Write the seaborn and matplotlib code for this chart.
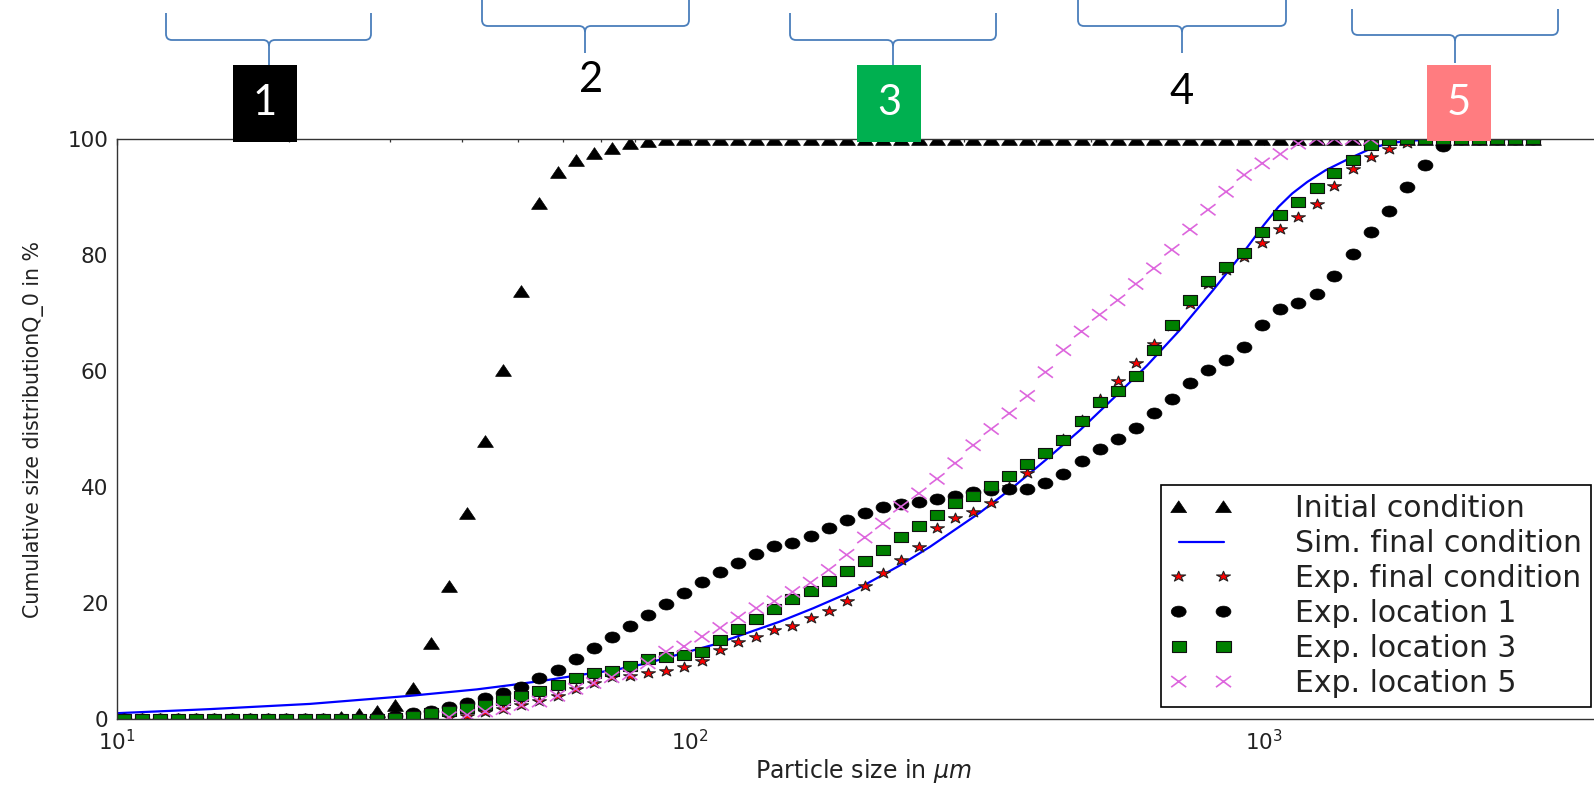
import numpy as np
import pandas as pd
import matplotlib
matplotlib.use("Agg")
import matplotlib.pyplot as plt
import matplotlib.transforms as mtransforms
from matplotlib.path import Path
from matplotlib.patches import Rectangle, PathPatch
from matplotlib import font_manager
import seaborn as sns

# ---------------- data ----------------
SIZE = [10.29, 11.07, 11.90, 12.79, 13.75, 14.79, 15.90, 17.10, 18.39, 19.77,
        21.26, 22.86, 24.58, 26.42, 28.41, 30.55, 32.85, 35.32, 37.97, 40.83,
        43.90, 47.21, 50.76, 54.58, 58.68, 63.10, 67.84, 72.94, 78.43, 84.33,
        90.68, 97.50, 104.8, 112.7, 121.2, 130.3, 140.1, 150.7, 162.0, 174.2,
        187.3, 201.4, 216.5, 232.8, 250.3, 269.2, 289.4, 311.2, 334.6, 359.7,
        386.8, 415.9, 447.2, 480.8, 517.0, 555.9, 597.7, 642.7, 691.0, 743.0,
        798.9, 859.0, 923.6, 993.1, 1068, 1148, 1235, 1327, 1427, 1535,
        1650, 1774, 1908, 2051, 2205, 2371, 2550, 2742, 2948]

INITIAL = [0, 0, 0, 0, 0, 0, 0, 0, 0, 0,
           0, 0, 0.3, 0.8, 1.4, 2.5, 5.4, 13.1, 23.0, 35.6,
           48.0, 60.1, 73.8, 89.0, 94.3, 96.4, 97.6, 98.4, 99.3, 99.7,
           100, 100, 100, 100, 100, 100, 100, 100, 100, 100,
           100, 100, 100, 100, 100, 100, 100, 100, 100, 100,
           100, 100, 100, 100, 100, 100, 100, 100, 100, 100,
           100, 100, 100, 100, 100, 100, 100, 100, 100, 100,
           100, 100, 100, 100, 100, 100, 100, 100, 100]

EXP_FINAL = [0, 0, 0, 0, 0, 0, 0, 0, 0, 0,
             0, 0, 0, 0, 0, 0, 0, 0, 0.3, 0.6,
             1.2, 1.7, 2.4, 3.1, 4.0, 5.1, 6.2, 7.2, 7.5, 8.0,
             8.3, 9.0, 10.0, 11.9, 13.3, 14.2, 15.3, 16.0, 17.4, 18.7,
             20.4, 22.9, 25.1, 27.4, 29.7, 32.9, 34.6, 35.7, 37.2, 40.0,
             42.5, 45.7, 48.2, 51.6, 55.2, 58.3, 61.3, 64.7, 67.8, 71.5,
             75.0, 77.4, 79.7, 82.1, 84.5, 86.6, 88.8, 91.9, 94.9, 96.9,
             98.2, 99.3, 100, 100, 100, 100, 100, 100, 100]

LOC1 = [0, 0, 0, 0, 0, 0, 0, 0, 0, 0,
        0, 0, 0, 0, 0.3, 0.6, 1.0, 1.4, 2.0, 2.7,
        3.6, 4.5, 5.6, 7.0, 8.5, 10.4, 12.3, 14.1, 16.0, 17.9,
        19.9, 21.8, 23.7, 25.4, 26.9, 28.4, 29.8, 30.3, 31.6, 33.0,
        34.3, 35.6, 36.5, 37.0, 37.4, 38.0, 38.5, 39.2, 39.4, 39.6,
        39.6, 40.7, 42.2, 44.5, 46.5, 48.2, 50.2, 52.7, 55.2, 57.9,
        60.1, 61.9, 64.2, 68.0, 70.7, 71.8, 73.3, 76.4, 80.2, 84.0,
        87.6, 91.8, 95.6, 98.8, 100, 100, 100, 100, 100]

LOC3 = [0, 0, 0, 0, 0, 0, 0, 0, 0, 0,
        0, 0, 0, 0, 0, 0.1, 0.5, 1.0, 1.3, 1.9,
        2.4, 3.2, 4.0, 4.8, 5.8, 7.1, 7.9, 8.3, 9.1, 10.4,
        10.7, 11.0, 11.6, 13.6, 15.5, 17.3, 19.0, 20.7, 22.1, 23.8,
        25.5, 27.2, 29.2, 31.3, 33.2, 35.2, 37.2, 38.4, 40.1, 41.9,
        43.9, 45.8, 48.1, 51.4, 54.6, 56.5, 59.2, 63.7, 68.0, 72.2,
        75.6, 77.9, 80.4, 84.0, 86.9, 89.2, 91.6, 94.1, 96.4, 98.9,
        99.8, 100, 100, 100, 100, 100, 100, 100, 100]

NA = np.nan
LOC5 = [NA, NA, NA, NA, NA, NA, NA, NA, NA, NA,
        NA, NA, NA, NA, NA, NA, NA, NA, 0.3, 0.7,
        1.3, 1.7, 2.4, 3.0, 4.0, 5.2, 6.2, 7.2, 7.7, 9.6,
        11.6, 12.5, 14.2, 15.7, 17.5, 19.1, 20.3, 21.9, 23.5, 25.7,
        28.3, 31.3, 33.7, 36.6, 38.9, 41.4, 44.1, 47.2, 50.0, 52.7,
        55.7, 59.8, 63.6, 66.8, 69.7, 72.2, 75.0, 77.7, 80.9, 84.4,
        87.8, 90.9, 93.8, 95.8, 97.4, 99.2, 100, 100, 100, 100,
        NA, NA, NA, NA, NA, NA, NA, NA, NA]

SIM_X = [10, 14.5, 21.7, 32.5, 42.4, 49.1, 56.2, 64.2, 73.4, 84.0,
         95.9, 109.7, 125.4, 143.3, 163.8, 187.3, 200.3, 232.1, 261.8, 320.0,
         365.7, 418.0, 477.9, 546.5, 624.8, 714.0, 816.2, 933.0, 1000, 1060,
         1120, 1190, 1280, 1413, 1540, 1659, 1797, 2028, 3000]
SIM_Y = [1.0, 1.7, 2.6, 4.0, 5.1, 5.9, 6.7, 7.6, 8.4, 9.6,
         11.2, 12.8, 14.8, 16.8, 19.1, 21.6, 23.0, 26.5, 29.7, 35.6,
         40.0, 44.8, 49.8, 55.3, 60.9, 67.1, 74.0, 81.2, 85.2, 88.3,
         90.6, 92.6, 94.6, 96.7, 98.4, 99.3, 99.7, 100, 100]

LABELS = ["Initial condition", "Sim. final condition", "Exp. final condition",
          "Exp. location 1", "Exp. location 3", "Exp. location 5"]
Y_TICKS = [0, 20, 40, 60, 80, 100]
REGION_LABELS = ["1", "2", "3", "4", "5"]

# ---------------- style ----------------
sns.set_style("white")
plt.rcParams["font.family"] = ["DejaVu Sans"]
plt.rcParams["mathtext.fontset"] = "dejavusans"

available = {f.name for f in font_manager.fontManager.ttflist}
digit_family = "Liberation Sans Narrow" if "Liberation Sans Narrow" in available else "Lato"

W, H = 1594, 786
fig = plt.figure(figsize=(W / 100, H / 100), dpi=100)
fig.patch.set_facecolor("white")

ax_l, ax_r, ax_t, ax_b = 116.7, 1609.3, 139.0, 719.0
ax = fig.add_axes([ax_l / W, 1 - ax_b / H, (ax_r - ax_l) / W, (ax_b - ax_t) / H])
ax.set_facecolor("white")

# stretched marker shapes (the reference is widened horizontally)
k = 1.35
tri = Path([(0, 1), (-k, -1), (k, -1), (0, 1)],
           [Path.MOVETO, Path.LINETO, Path.LINETO, Path.CLOSEPOLY])
uc = Path.unit_circle()
circ = Path(uc.vertices * np.array([k, 1.0]), uc.codes)
sq = Path([(-k, -1), (k, -1), (k, 1), (-k, 1), (-k, -1)],
          [Path.MOVETO, Path.LINETO, Path.LINETO, Path.LINETO, Path.CLOSEPOLY])
us = Path.unit_regular_star(5, 0.381966)
star = Path(us.vertices * np.array([k, 1.0]), us.codes)
xm = Path([(-k, -1), (k, 1), (-k, 1), (k, -1)],
          [Path.MOVETO, Path.LINETO, Path.MOVETO, Path.LINETO])

df = pd.DataFrame({"size": SIZE, "initial": INITIAL, "exp_final": EXP_FINAL,
                   "loc1": LOC1, "loc3": LOC3, "loc5": LOC5})
sim = pd.DataFrame({"size": SIM_X, "q0": SIM_Y})

handles = []
sns.scatterplot(data=df, x="size", y="initial", marker=tri, s=130, color="black",
                edgecolor="black", linewidth=0.5, ax=ax, zorder=2)
handles.append(ax.collections[-1])
sns.lineplot(data=sim, x="size", y="q0", color="#0000ff", linewidth=1.6,
             estimator=None, ax=ax, zorder=2)
handles.append(ax.lines[-1])
sns.scatterplot(data=df, x="size", y="exp_final", marker=star, s=100, color="#ff0000",
                edgecolor="#222222", linewidth=0.8, ax=ax, zorder=2)
handles.append(ax.collections[-1])
sns.scatterplot(data=df, x="size", y="loc1", marker=circ, s=115, color="black",
                edgecolor="black", linewidth=0.5, ax=ax, zorder=2)
handles.append(ax.collections[-1])
sns.scatterplot(data=df, x="size", y="loc3", marker=sq, s=105, color="#008000",
                edgecolor="#111111", linewidth=0.8, ax=ax, zorder=2)
handles.append(ax.collections[-1])
sns.scatterplot(data=df, x="size", y="loc5", marker=xm, s=117, color="#dd66dd",
                facecolor="none", edgecolor="#dd66dd", linewidth=1.2, ax=ax, zorder=2)
handles.append(ax.collections[-1])

ax.set_xscale("log")
ax.set_xlim(10, 4000)
ax.set_ylim(0, 100)
ax.set_yticks(Y_TICKS)
for s in ax.spines.values():
    s.set_color("#333333")
    s.set_linewidth(1.0)
    s.set_visible(True)
ax.tick_params(axis="both", which="both", direction="in", top=True, right=True,
               colors="#333333", labelcolor="#222222", width=0.9)
ax.tick_params(axis="y", which="major", length=7, pad=6, labelsize=15.5)
ax.tick_params(axis="x", which="major", length=4.5, pad=7, labelsize=15.5)
ax.tick_params(axis="x", which="minor", length=2.5)

ax.set_xlabel(r"Particle size in $\mu m$", fontsize=17, color="#222222", labelpad=2)
ax.set_ylabel("Cumulative size distributionQ_0 in %", fontsize=14.8,
              color="#222222", labelpad=17)

leg = ax.legend(handles, LABELS, loc="lower right",
                bbox_to_anchor=(1591 / W, 1 - 707 / H), bbox_transform=fig.transFigure,
                borderaxespad=0, numpoints=2, scatterpoints=2, scatteryoffsets=[0.5],
                fontsize=21.5, frameon=True, fancybox=False, framealpha=1,
                edgecolor="black", handlelength=2.1, handletextpad=2.1,
                borderpad=0.3, labelspacing=0.2, markerscale=1.0)
leg.get_frame().set_linewidth(1.2)
for t in leg.get_texts():
    t.set_color("#222222")

# ---------------- region braces and labels above the plot ----------------
pix = mtransforms.Affine2D().scale(1 / W, -1 / H).translate(0, 1) + fig.transFigure


def brace(L, R, top, hy, tipx, tipy, r=6):
    verts = [(L, top), (L, hy - r), (L, hy), (L + r, hy), (tipx - r, hy),
             (tipx, hy), (tipx, hy + r), (tipx, tipy),
             (R, top), (R, hy - r), (R, hy), (R - r, hy), (tipx + r, hy),
             (tipx, hy), (tipx, hy + r)]
    codes = [Path.MOVETO, Path.LINETO, Path.CURVE3, Path.CURVE3, Path.LINETO,
             Path.CURVE3, Path.CURVE3, Path.LINETO,
             Path.MOVETO, Path.LINETO, Path.CURVE3, Path.CURVE3, Path.LINETO,
             Path.CURVE3, Path.CURVE3]
    fig.add_artist(PathPatch(Path(verts, codes), transform=pix, facecolor="none",
                             edgecolor="#4a7ebb", linewidth=1.3, clip_on=False))


brace(166, 371, 13, 40, 269, 65)
brace(482, 689, -2, 26, 585, 53)
brace(790, 996, 13, 40, 893, 65)
brace(1078, 1286, -2, 26, 1182, 53)
brace(1352, 1558, 9, 35, 1455, 63)

boxes = [(233, 65, 64, 77, "#000000"), None, (857, 65, 64, 77, "#00b050"), None,
         (1427, 65, 64, 76, "#ff7c80")]
label_pos = [(265, 103), (591, 80), (889, 103), (1182, 92), (1459, 103)]
for lab, bx, (tx, ty) in zip(REGION_LABELS, boxes, label_pos):
    if bx is not None:
        x0, y0, w, h, c = bx
        fig.add_artist(Rectangle((x0, y0), w, h, transform=pix, facecolor=c,
                                 edgecolor="none", zorder=5, clip_on=False))
        col = "white"
    else:
        col = "black"
    fig.text(tx, ty, lab, transform=pix, ha="center", va="center", color=col,
             fontsize=30, family=[digit_family, "DejaVu Sans"], zorder=6)

fig.savefig("out.png", dpi=100, facecolor="white")
